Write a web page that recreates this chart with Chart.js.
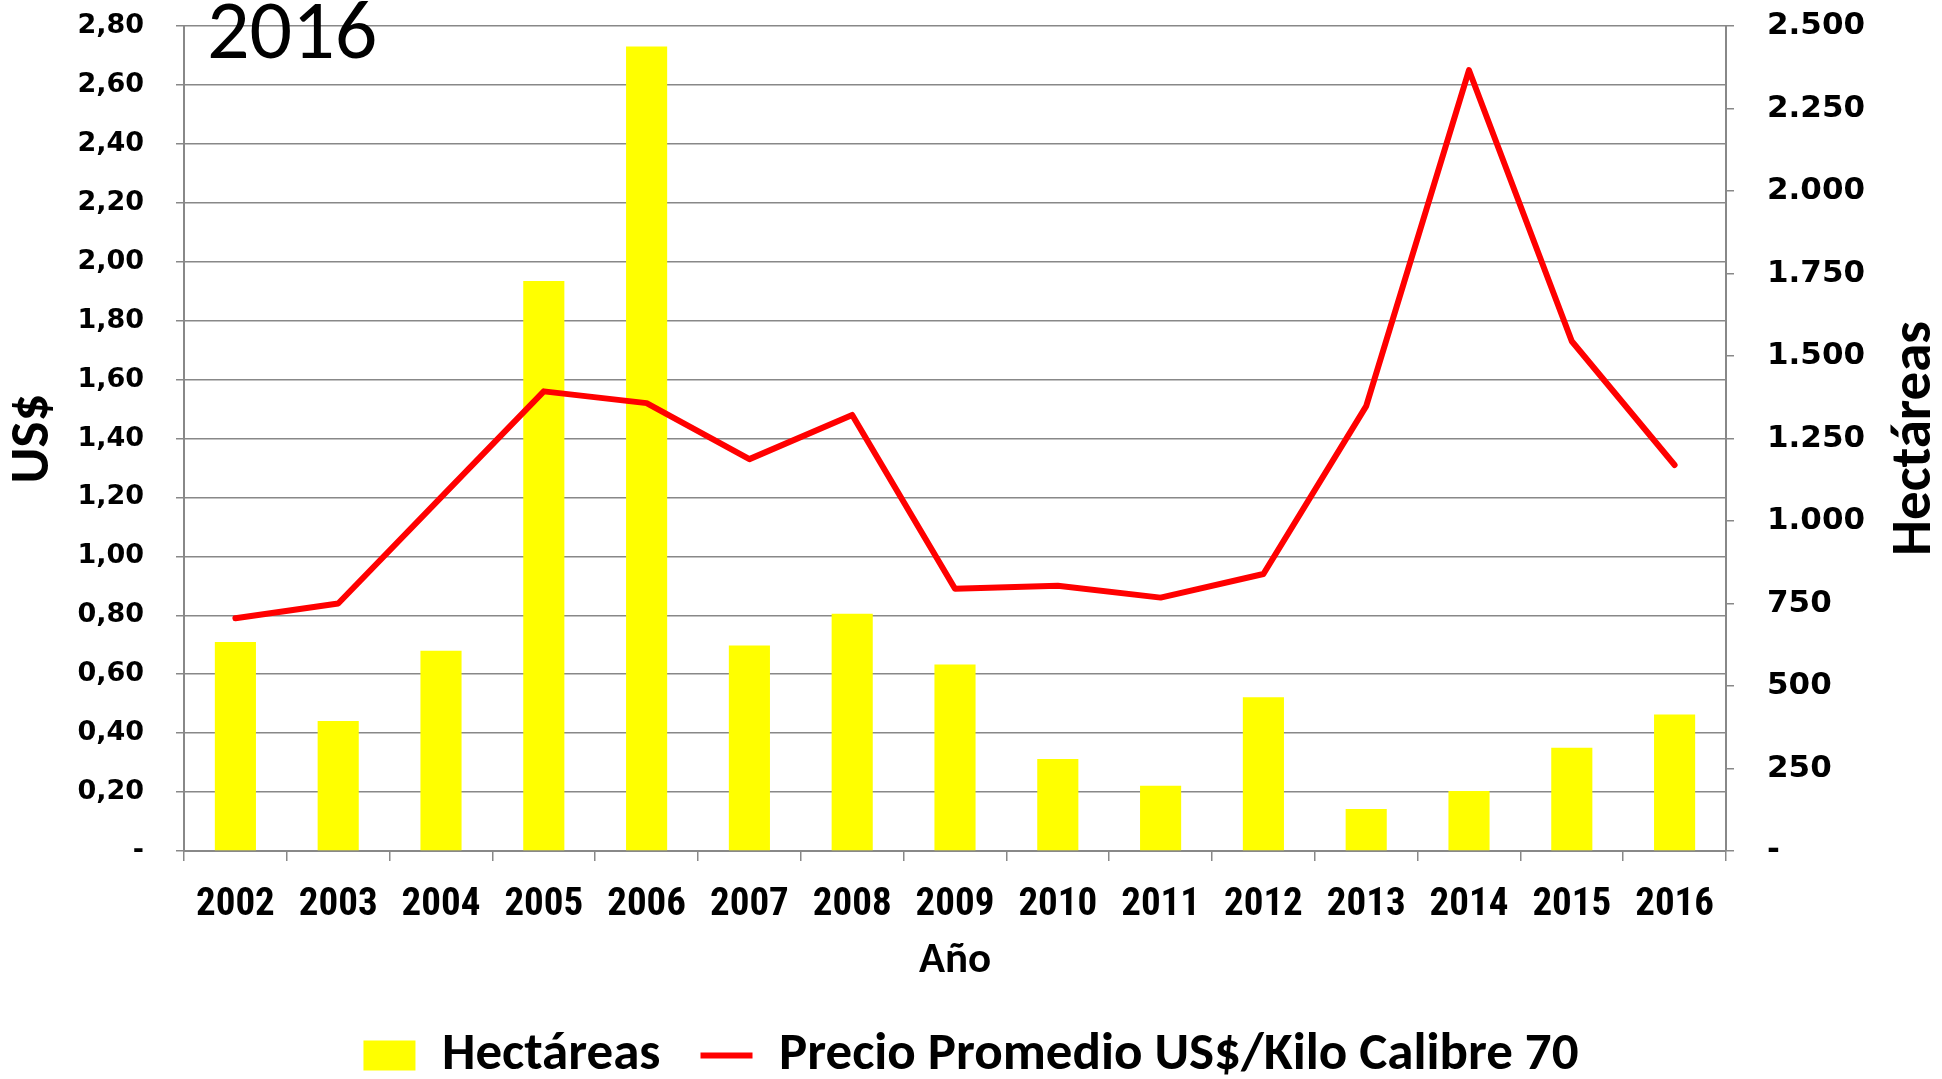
<!DOCTYPE html>
<html>
<head>
<meta charset="utf-8">
<script src="https://cdn.jsdelivr.net/npm/chart.js@4.4.1/dist/chart.umd.min.js"></script>
<style>
    body { margin: 0; background: #fff; }
    #wrap { width: 1942px; height: 1079px; }
</style>
</head>
<body>
<div id="wrap"><canvas id="chart"></canvas></div>
<script>
const years = ['2002', '2003', '2004', '2005', '2006', '2007', '2008', '2009', '2010', '2011', '2012', '2013', '2014', '2015', '2016'];
const hectareas = [633, 394, 607, 1727, 2438, 623, 719, 565, 279, 198, 466, 127, 182, 313, 414];
const precio = [0.79, 0.84, 1.20, 1.56, 1.52, 1.33, 1.48, 0.89, 0.90, 0.86, 0.94, 1.51, 2.65, 1.73, 1.31];

const calibri = "Carlito, 'Liberation Sans', sans-serif";
const condensed = "'Roboto Condensed', Carlito, sans-serif";
const wide = "'DejaVu Sans', Verdana, sans-serif";
const grey = '#888888';

// "2016" en la esquina y titulo del eje derecho (leido de abajo hacia arriba)
const extraText = {
    id: 'extraText',
    afterDraw(chart) {
        const { ctx, chartArea } = chart;
        ctx.save();
        ctx.fillStyle = '#000';
        ctx.font = '84px ' + calibri;
        ctx.textBaseline = 'alphabetic';
        ctx.fillText('2016', 207, 58);
        ctx.translate(1916, (chartArea.top + chartArea.bottom) / 2);
        ctx.rotate(-Math.PI / 2);
        ctx.textAlign = 'center';
        ctx.textBaseline = 'middle';
        ctx.font = 'bold 57px ' + calibri;
        ctx.fillText('Hectáreas', 0, 0);
        ctx.restore();
    }
};

const fmtPrecio = v => v === 0 ? '-' : v.toFixed(2).replace('.', ',');
const fmtHa = v => v === 0 ? '-' : String(Math.round(v)).replace(/\B(?=(\d{3})+(?!\d))/g, '.');

// the tick padding would otherwise push the plot area down
const fixVertical = w => s => {
    s.width = w;
    s.paddingTop = 0;
    s.paddingBottom = 0;
};

new Chart(document.getElementById('chart'), {
    type: 'bar',
    data: {
        labels: years,
        datasets: [
            {
                type: 'line',
                label: 'Precio Promedio US$/Kilo Calibre 70',
                data: precio,
                yAxisID: 'y',
                borderColor: '#FF0000',
                borderWidth: 6,
                borderCapStyle: 'round',
                borderJoinStyle: 'round',
                pointRadius: 0,
                pointHoverRadius: 0,
                pointStyle: 'line',
                pointBorderWidth: 6,
                pointBorderColor: '#FF0000',
                tension: 0
            },
            {
                label: 'Hectáreas',
                data: hectareas,
                yAxisID: 'y1',
                backgroundColor: '#FFFF00',
                borderWidth: 0,
                pointStyle: 'rect',
                barPercentage: 0.4,
                categoryPercentage: 1.0
            }
        ]
    },
    options: {
        responsive: true,
        maintainAspectRatio: false,
        animation: false,
        layout: { padding: { top: 26, bottom: 0, left: 0, right: 0 } },
        plugins: {
            tooltip: { enabled: false },
            legend: {
                position: 'bottom',
                reverse: true,
                maxHeight: 90,
                labels: {
                    usePointStyle: true,
                    pointStyleWidth: 52,
                    boxHeight: 30,
                    padding: 40,
                    color: '#000',
                    font: { family: calibri, size: 53, weight: 'bold' }
                }
            }
        },
        scales: {
            x: {
                grid: { drawOnChartArea: false, offset: true, tickLength: 10, color: grey, lineWidth: 1.5 },
                border: { color: grey, width: 2 },
                ticks: { color: '#000', padding: 21, font: { family: condensed, size: 39, weight: 'bold' } },
                title: {
                    display: true, text: 'Año', color: '#000',
                    font: { family: calibri, size: 43, weight: 'bold' },
                    padding: { top: 2, bottom: 2 }
                },
                afterFit(s) { s.height = 138; }
            },
            y: {
                position: 'left',
                min: 0,
                max: 2.8,
                grid: { color: grey, lineWidth: 1.5, tickLength: 8 },
                border: { color: grey, width: 2 },
                ticks: {
                    stepSize: 0.2, padding: 32, color: '#000',
                    font: { family: wide, size: 27, weight: 'bold' },
                    callback: v => fmtPrecio(v)
                },
                title: {
                    display: true, text: 'US$', color: '#000',
                    font: { family: calibri, size: 55, weight: 'bold', lineHeight: 1 },
                    padding: { top: 7, bottom: 0 }
                },
                afterFit: fixVertical(184)
            },
            y1: {
                position: 'right',
                min: 0,
                max: 2500,
                grid: { drawOnChartArea: false, color: grey, lineWidth: 1.5, tickLength: 8 },
                border: { color: grey, width: 2 },
                ticks: {
                    stepSize: 250, padding: 33, color: '#000',
                    font: { family: wide, size: 31, weight: 'bold' },
                    callback: v => fmtHa(v)
                },
                afterFit: fixVertical(216)
            }
        }
    },
    plugins: [extraText]
});
</script>
</body>
</html>
